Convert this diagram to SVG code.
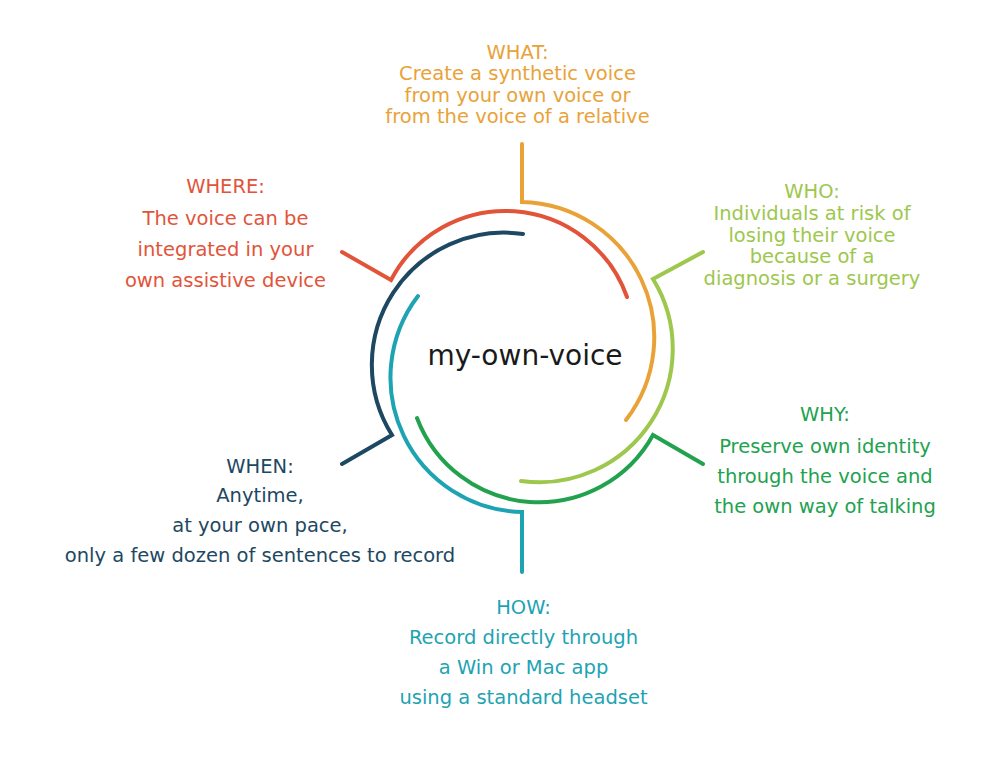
<svg xmlns="http://www.w3.org/2000/svg" width="1000" height="764" viewBox="0 0 1000 764">
<style>
  text { font-family: "DejaVu Sans", "Liberation Sans", sans-serif; font-size: 19.5px; text-anchor: middle; }
  .arc { fill: none; stroke-width: 4; stroke-linecap: round; stroke-linejoin: miter; }
  .c-what { fill: #E9A238; }
  .c-who { fill: #9DC74D; }
  .c-why { fill: #22A24F; }
  .c-how { fill: #1EA3B3; }
  .c-when { fill: #1D4862; }
  .c-where { fill: #E2543A; }
  .center { font-size: 28px; fill: #1a1a1a; }
</style>
<rect width="1000" height="764" fill="#ffffff"/>
<g id="connectors">
  <path class="arc" stroke="#E9A238" d="M522,144 L522,202 A135.3,135.3 0 0 1 626,420"/>
  <path class="arc" stroke="#9DC74D" d="M703,252 L653,279 A133.4,133.4 0 0 1 521,481"/>
  <path class="arc" stroke="#22A24F" d="M703,464 L653,435 A130.3,130.3 0 0 1 417,418"/>
  <path class="arc" stroke="#1EA3B3" d="M522,572 L522,512 A134.5,134.5 0 0 1 418,296"/>
  <path class="arc" stroke="#1D4862" d="M342,464 L392,435 A132.2,132.2 0 0 1 523,234"/>
  <path class="arc" stroke="#E2543A" d="M342,252 L391,280 A129.1,129.1 0 0 1 627,297"/>
</g>
<g id="center">
  <text class="center" x="525" y="365">my-own-voice</text>
</g>
<g id="what" class="c-what">
  <text x="517.5" y="59">WHAT:</text>
  <text x="517.5" y="80">Create a synthetic voice</text>
  <text x="517.5" y="101.5">from your own voice or</text>
  <text x="517.5" y="123">from the voice of a relative</text>
</g>
<g id="where" class="c-where">
  <text x="225.5" y="193">WHERE:</text>
  <text x="225.5" y="224.5">The voice can be</text>
  <text x="225.5" y="255.5">integrated in your</text>
  <text x="225.5" y="286.5">own assistive device</text>
</g>
<g id="who" class="c-who">
  <text x="812" y="198">WHO:</text>
  <text x="812" y="220">Individuals at risk of</text>
  <text x="812" y="241.5">losing their voice</text>
  <text x="812" y="263">because of a</text>
  <text x="812" y="284.5">diagnosis or a surgery</text>
</g>
<g id="why" class="c-why">
  <text x="825" y="421">WHY:</text>
  <text x="825" y="452.5">Preserve own identity</text>
  <text x="825" y="483">through the voice and</text>
  <text x="825" y="513">the own way of talking</text>
</g>
<g id="when" class="c-when">
  <text x="260" y="472.5">WHEN:</text>
  <text x="260" y="502">Anytime,</text>
  <text x="260" y="531.5">at your own pace,</text>
  <text x="260" y="562">only a few dozen of sentences to record</text>
</g>
<g id="how" class="c-how">
  <text x="523.5" y="613.5">HOW:</text>
  <text x="523.5" y="643.5">Record directly through</text>
  <text x="523.5" y="673.5">a Win or Mac app</text>
  <text x="523.5" y="704">using a standard headset</text>
</g>
</svg>
